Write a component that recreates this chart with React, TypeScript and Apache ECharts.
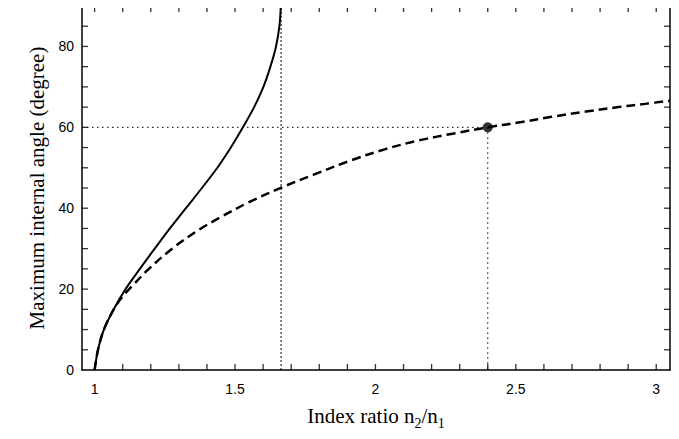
import React, { useEffect, useRef } from "react";
import * as echarts from "echarts";

const X_MIN = 0.955;
const X_MAX = 3.049;
const Y_MIN = 0;
const Y_MAX = 90;

const xLabelValues = [1, 1.5, 2, 2.5, 3];
const xTickValues = [
  1, 1.1, 1.2, 1.3, 1.4, 1.5, 1.6, 1.7, 1.8, 1.9, 2, 2.1, 2.2, 2.3, 2.4, 2.5,
  2.6, 2.7, 2.8, 2.9, 3,
];
const yLabelValues = [0, 20, 40, 60, 80];
const yTickValues = [
  5, 10, 15, 20, 25, 30, 35, 40, 45, 50, 55, 60, 65, 70, 75, 80, 85,
];

// solid curve
const solidCurve: [number, number][] = [
  [1.0, 0],
  [1.012, 5],
  [1.033, 10],
  [1.068, 15],
  [1.11, 20],
  [1.161, 25],
  [1.214, 30],
  [1.268, 35],
  [1.325, 40],
  [1.382, 45],
  [1.437, 50],
  [1.485, 55],
  [1.528, 60],
  [1.568, 65],
  [1.601, 70],
  [1.626, 75],
  [1.646, 80],
  [1.658, 85],
  [1.663, 90],
];

// dashed curve
const dashedCurve: [number, number][] = [
  [1.0, 0],
  [1.012, 5],
  [1.033, 10],
  [1.068, 15],
  [1.1, 18.2],
  [1.133, 20.7],
  [1.193, 25.0],
  [1.276, 30.0],
  [1.372, 34.7],
  [1.449, 37.8],
  [1.55, 41.5],
  [1.665, 45.1],
  [1.78, 48.3],
  [1.912, 51.8],
  [2.03, 54.5],
  [2.15, 56.7],
  [2.28, 58.5],
  [2.4, 60],
  [2.52, 61.3],
  [2.627, 62.6],
  [2.75, 63.9],
  [2.865, 65.0],
  [2.96, 65.8],
  [3.049, 66.6],
];

const asymptoteX = 1.664;
const markedPoint: [number, number] = [2.4, 60];

const asymptoteLine: [number, number][] = [
  [asymptoteX, Y_MIN],
  [asymptoteX, Y_MAX],
];
const horizontalGuide: [number, number][] = [
  [X_MIN, markedPoint[1]],
  [markedPoint[0], markedPoint[1]],
];
const verticalGuide: [number, number][] = [
  [markedPoint[0], markedPoint[1]],
  [markedPoint[0], Y_MIN],
];

const FRAME = { show: true, onZero: false, lineStyle: { color: "#000", width: 1.5 } };
const labelFont = {
  fontFamily: "'Liberation Sans', Arial, sans-serif",
  fontSize: 14,
  color: "#000",
};
const titleFont = {
  fontFamily: "'Liberation Serif', 'Times New Roman', serif",
  fontSize: 21,
  color: "#000",
};

const TICK_LEN = 6;
const TICK_W = 1.3;

export default function App() {
  const ref = useRef<HTMLDivElement>(null);

  useEffect(() => {
    if (!ref.current) return;
    const chart = echarts.init(ref.current, null, { renderer: "svg" });
    const dotted = (data: [number, number][], dash: number[]) => ({
      type: "line",
      data,
      showSymbol: false,
      silent: true,
      lineStyle: { color: "#000", width: 1, type: dash },
      z: 1,
    });
    const ticks = (
      data: number[][],
      size: number[],
      offset: number[]
    ) => ({
      type: "scatter",
      data,
      symbol: "rect",
      symbolSize: size,
      symbolOffset: offset,
      itemStyle: { color: "#000" },
      silent: true,
      clip: false,
      z: 6,
    });
    chart.setOption({
      animation: false,
      backgroundColor: "#fff",
      grid: { left: 82, right: 9, top: 6, bottom: 69 },
      xAxis: [
        {
          type: "value",
          min: X_MIN,
          max: X_MAX,
          position: "bottom",
          axisLine: FRAME,
          axisTick: { show: false },
          axisLabel: { ...labelFont, margin: 12, customValues: xLabelValues },
          splitLine: { show: false },
          name: "Index ratio n{sub|2}/n{sub|1}",
          nameLocation: "middle",
          nameGap: 30,
          nameTextStyle: {
            ...titleFont,
            lineHeight: 30,
            rich: {
              sub: { ...titleFont, fontSize: 14, lineHeight: 14, verticalAlign: "bottom" },
            },
          },
        },
        {
          type: "value",
          min: X_MIN,
          max: X_MAX,
          position: "top",
          axisLine: FRAME,
          axisTick: { show: false },
          axisLabel: { show: false },
          splitLine: { show: false },
        },
      ],
      yAxis: [
        {
          type: "value",
          min: Y_MIN,
          max: Y_MAX,
          position: "left",
          axisLine: FRAME,
          axisTick: { show: false },
          axisLabel: { ...labelFont, margin: 8, customValues: yLabelValues },
          splitLine: { show: false },
          name: "Maximum internal angle (degree)",
          nameLocation: "middle",
          nameGap: 32,
          nameTextStyle: titleFont,
        },
        {
          type: "value",
          min: Y_MIN,
          max: Y_MAX,
          position: "right",
          axisLine: FRAME,
          axisTick: { show: false },
          axisLabel: { show: false },
          splitLine: { show: false },
        },
      ],
      series: [
        dotted(asymptoteLine, [2, 2]),
        dotted(horizontalGuide, [1.5, 3.5]),
        dotted(verticalGuide, [1.5, 3.5]),
        {
          type: "line",
          data: dashedCurve,
          showSymbol: false,
          smooth: 0.35,
          lineStyle: { color: "#000", width: 2.5, type: [9, 5] },
          z: 2,
        },
        {
          type: "line",
          data: solidCurve,
          showSymbol: false,
          smooth: 0.35,
          lineStyle: { color: "#000", width: 2 },
          z: 3,
        },
        {
          type: "scatter",
          data: [markedPoint],
          symbol: "circle",
          symbolSize: 10,
          itemStyle: { color: "#000" },
          z: 4,
        },
        ticks(xTickValues.map((v) => [v, Y_MIN]), [TICK_W, TICK_LEN], [0, -TICK_LEN / 2]),
        ticks(xTickValues.map((v) => [v, Y_MAX]), [TICK_W, TICK_LEN], [0, TICK_LEN / 2]),
        ticks(yTickValues.map((v) => [X_MIN, v]), [TICK_LEN, TICK_W], [TICK_LEN / 2, 0]),
        ticks(yTickValues.map((v) => [X_MAX, v]), [TICK_LEN, TICK_W], [-TICK_LEN / 2, 0]),
      ],
    });
    return () => chart.dispose();
  }, []);

  return <div ref={ref} style={{ width: 679, height: 439, margin: -8 }} />;
}
